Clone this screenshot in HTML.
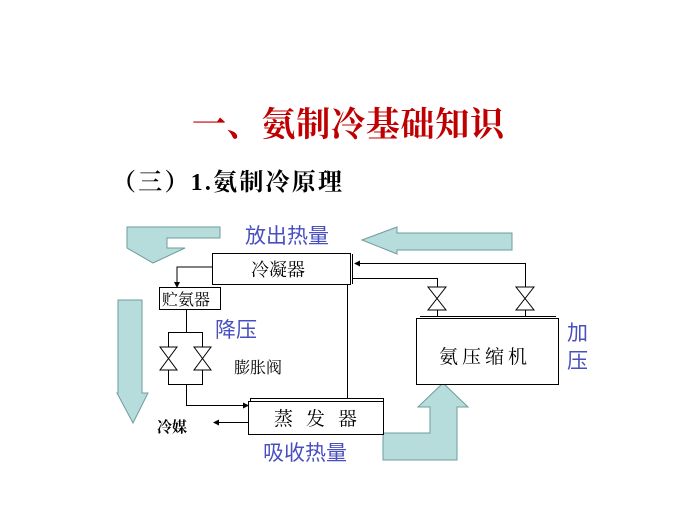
<!DOCTYPE html>
<html><head><meta charset="utf-8"><style>
html,body{margin:0;padding:0;background:#fff}
svg{display:block}
</style></head><body>
<svg width="700" height="525" viewBox="0 0 700 525" xmlns="http://www.w3.org/2000/svg">
<defs><marker id="ah" markerWidth="6" markerHeight="6" refX="5" refY="3" orient="auto"><path d="M0,0 L6,3 L0,6 z" fill="#000"/></marker></defs>
<text x="192" y="136" font-family="Liberation Serif,'Noto Serif CJK SC',serif" font-weight="bold" font-size="34" fill="#c00000" textLength="312">一、氨制冷基础知识</text>
<text x="112" y="190" font-family="Liberation Serif,'Noto Serif CJK SC',serif" font-weight="bold" font-size="24" fill="#000" textLength="230">（三）1.氨制冷原理</text>

<g fill="#b7dcdc" stroke="#6f9c9c" stroke-width="1">
<polygon points="127,227 220,227 220,238 167,238 167,248 185,248 153,263 127,248"/>
<polygon points="118,300 142,300 142,393 148,393 133,423 117,393 118,393"/>
<polygon points="362,240 397,227 397,233 512,233 512,250 397,250 397,254"/>
<polygon points="383,433 430,433 430,407 418,407 443,383 468,407 457,407 457,460 383,460"/>
</g>

<g fill="#fff" stroke="#000" stroke-width="1">
<rect x="212.5" y="253.5" width="138" height="31"/>
<line x1="352.5" y1="254" x2="352.5" y2="284"/>
<rect x="159.5" y="287.5" width="61" height="22"/>
<rect x="250.5" y="398.5" width="133" height="33"/>
<rect x="248.5" y="401.5" width="135" height="33"/>
<rect x="416.5" y="318.5" width="142" height="66"/>
<line x1="420" y1="316.5" x2="556" y2="316.5"/>
</g>

<g fill="none" stroke="#000" stroke-width="1">
<polyline points="212,267 177,267 177,287" marker-end="url(#ah)"/>
<line x1="347.5" y1="285" x2="347.5" y2="398"/>
<line x1="186.5" y1="310" x2="186.5" y2="332"/>
<polyline points="168.5,347 168.5,332.5 202.5,332.5 202.5,347"/>
<polyline points="168.5,370 168.5,384.5 202.5,384.5 202.5,370"/>
<polyline points="186.5,384 186.5,405.5 248,405.5" marker-end="url(#ah)"/>
<line x1="248" y1="422.5" x2="214" y2="422.5" marker-end="url(#ah)"/>
<polyline points="525.5,287 525.5,263.5 355,263.5" marker-end="url(#ah)"/>
<polyline points="437.5,287 437.5,278.5 353,278.5"/>
<line x1="437.5" y1="310" x2="437.5" y2="317"/>
<line x1="525.5" y1="310" x2="525.5" y2="317"/>
</g>
<g fill="#fff" stroke="#000" stroke-width="1">
<polygon points="428,287 446,287 428,310 446,310"/>
<polygon points="516,287 534,287 516,310 534,310"/>
<polygon points="160,347 177,347 160,370 177,370"/>
<polygon points="194,347 211,347 194,370 211,370"/>
</g>

<g font-family="Liberation Sans,'Noto Sans CJK SC',sans-serif" fill="#4a4fc0" font-size="21">
<text x="245" y="243">放出热量</text>
<text x="215" y="337">降压</text>
<text x="567" y="340">加</text>
<text x="567" y="368">压</text>
<text x="263" y="460">吸收热量</text>
</g>
<g font-family="Liberation Serif,'Noto Serif CJK SC',serif" fill="#000">
<text x="251" y="276" font-size="18">冷凝器</text>
<text x="162" y="305" font-size="16">贮氨器</text>
<text x="234" y="373" font-size="16">膨胀阀</text>
<text x="439" y="363" font-size="19" letter-spacing="4">氨压缩机</text>
<text x="274" y="425" font-size="19" letter-spacing="13">蒸发器</text>
<text x="157" y="432" font-size="15" font-weight="bold">冷媒</text>
</g>
</svg>
</body></html>
